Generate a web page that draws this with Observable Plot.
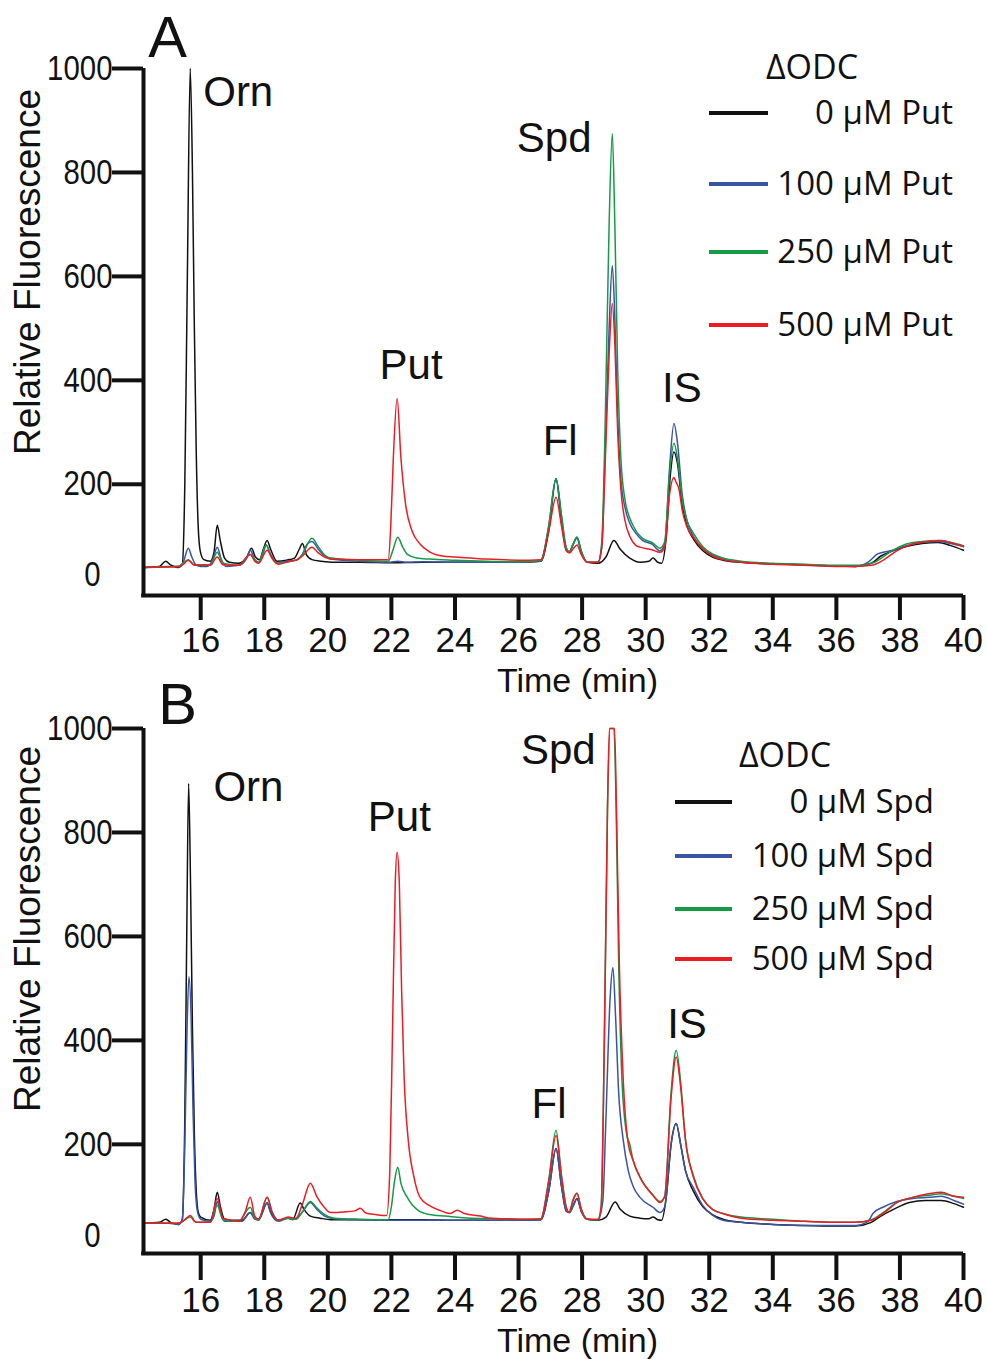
<!DOCTYPE html>
<html><head><meta charset="utf-8">
<script src="https://cdn.jsdelivr.net/npm/d3@7"></script>
<script src="https://cdn.jsdelivr.net/npm/@observablehq/plot@0.6"></script>
<style>
html,body{margin:0;padding:0;background:#fff;}
#root{position:relative;width:987px;height:1359px;overflow:hidden;background:#fff;}
#root svg{position:absolute;left:0;overflow:visible;}
.lg{position:absolute;font-family:"Open Sans",sans-serif;color:#111;white-space:nowrap;}
.sw{position:absolute;height:4px;}
</style></head><body><div id="root"></div><script>
// ---------- data ----------
const seriesNames = ["0 µM", "100 µM", "250 µM", "500 µM"];
const seriesColors = ["#111111", "#3a54a4", "#159a48", "#ec1c24"];
const xTicks = [16, 18, 20, 22, 24, 26, 28, 30, 32, 34, 36, 38, 40];
const yTicks = [200, 400, 600, 800, 1000];

// Panel A (ΔODC + putrescine) — [time (min), relative fluorescence]
const A_0 = [[14.2,40],[14.7,42],[14.9,52],[15.05,45],[15.3,40],[15.42,45],[15.5,200],[15.58,600],[15.67,1000],[15.74,800],[15.8,500],[15.86,260],[15.92,120],[15.99,70],[16.1,55],[16.3,52],[16.42,70],[16.52,121],[16.62,90],[16.75,58],[16.9,50],[17.2,48],[17.45,60],[17.6,77],[17.72,60],[17.85,55],[17.97,75],[18.09,92],[18.2,75],[18.4,52],[18.7,54],[18.95,58],[19.1,75],[19.2,86],[19.32,65],[19.5,55],[19.8,52],[20.2,50],[21,50],[22,49],[23,50],[24,50],[25,50],[26,50],[26.7,52],[26.95,110],[27.18,210],[27.35,130],[27.5,75],[27.6,70],[27.72,85],[27.84,98],[27.97,70],[28.16,50],[28.5,48],[28.75,60],[29.0,92],[29.2,75],[29.5,58],[29.82,50],[30.1,52],[30.23,58],[30.38,50],[30.5,48],[30.65,100],[30.78,220],[30.89,262],[31.0,240],[31.15,160],[31.3,120],[31.5,95],[31.8,72],[32.1,60],[32.43,54],[33,50],[34,47],[35,45],[36,43],[36.6,42],[37.1,48],[37.4,62],[37.7,70],[38.2,80],[38.7,86],[39.2,88],[39.6,82],[40,73]];
const A_100 = [[14.2,40],[15.0,42],[15.3,42],[15.45,50],[15.61,77],[15.72,60],[15.85,45],[16.0,42],[16.2,42],[16.38,55],[16.52,79],[16.65,55],[16.8,42],[17.2,44],[17.45,58],[17.56,73],[17.7,55],[17.82,50],[17.97,68],[18.06,83],[18.2,65],[18.4,48],[18.7,52],[19.0,54],[19.2,65],[19.35,85],[19.5,90],[19.7,75],[19.9,62],[20.1,56],[20.5,54],[21.0,52],[21.9,50],[22.2,52],[22.5,50],[23,51],[24,50],[25,50],[26,50],[26.7,52],[26.95,120],[27.18,211],[27.35,140],[27.5,78],[27.6,70],[27.72,85],[27.84,97],[27.97,72],[28.16,50],[28.5,50],[28.62,80],[28.72,250],[28.85,500],[28.95,621],[29.03,520],[29.12,330],[29.22,210],[29.35,155],[29.5,125],[29.7,105],[29.9,92],[30.2,85],[30.45,72],[30.6,85],[30.75,230],[30.89,317],[31.0,280],[31.15,180],[31.3,130],[31.5,100],[31.8,76],[32.1,64],[32.43,56],[33,50],[34,47],[35,45],[36,43],[36.6,42],[37.0,50],[37.3,66],[37.7,72],[38.2,82],[38.7,88],[39.2,90],[39.6,86],[40,80]];
const A_250 = [[14.2,40],[15.3,42],[15.61,55],[15.8,45],[16.3,45],[16.52,69],[16.7,48],[17.2,44],[17.56,65],[17.7,55],[17.82,50],[18.06,83],[18.2,62],[18.4,48],[19.0,54],[19.2,65],[19.5,96],[19.7,80],[19.9,64],[20.1,58],[21,54],[21.9,52],[22.03,70],[22.2,98],[22.35,80],[22.5,65],[22.8,58],[23.2,56],[24,54],[25,52],[26,51],[26.7,53],[26.95,120],[27.18,211],[27.35,140],[27.5,78],[27.6,70],[27.72,85],[27.84,98],[27.97,72],[28.16,50],[28.5,50],[28.62,90],[28.72,300],[28.85,700],[28.95,875],[29.03,700],[29.12,420],[29.22,250],[29.35,170],[29.5,135],[29.7,110],[29.9,96],[30.2,88],[30.45,77],[30.6,90],[30.75,220],[30.89,279],[31.0,250],[31.15,170],[31.3,130],[31.5,106],[31.8,80],[32.1,66],[32.43,58],[33,52],[34,48],[35,46],[36,44],[36.7,44],[37.2,50],[37.7,70],[38.2,85],[38.7,90],[39.2,92],[39.6,88],[40,82]];
const A_500 = [[14.2,40],[15.3,42],[15.45,46],[15.61,54],[15.8,44],[16.3,44],[16.52,60],[16.7,45],[17.2,44],[17.56,65],[17.7,52],[17.82,48],[18.09,73],[18.25,58],[18.44,46],[18.8,52],[19.0,54],[19.2,62],[19.5,79],[19.7,68],[19.9,60],[20.1,56],[21,55],[21.9,55],[21.98,120],[22.06,250],[22.18,365],[22.3,250],[22.45,160],[22.65,110],[22.9,85],[23.2,70],[23.6,62],[24,60],[24.5,58],[25,56],[26,54],[26.7,55],[26.95,110],[27.18,175],[27.35,120],[27.5,72],[27.6,68],[27.72,76],[27.84,83],[27.97,65],[28.16,50],[28.5,50],[28.62,80],[28.72,230],[28.85,450],[28.95,548],[29.03,470],[29.12,300],[29.22,190],[29.35,130],[29.5,100],[29.7,82],[29.82,79],[30.2,74],[30.45,69],[30.6,80],[30.75,180],[30.89,213],[30.95,205],[31.05,190],[31.15,150],[31.3,118],[31.5,98],[31.8,76],[32.1,62],[32.43,55],[33,50],[34,46],[35,44],[36,42],[36.6,42],[37.1,44],[37.5,55],[37.9,72],[38.4,85],[38.9,90],[39.3,92],[39.7,86],[40,80]];

// Panel B (ΔODC + spermidine)
const B_0 = [[14.2,48],[14.7,50],[14.9,56],[15.05,50],[15.3,46],[15.42,55],[15.5,250],[15.56,600],[15.62,894],[15.68,700],[15.74,420],[15.8,220],[15.86,110],[15.92,70],[16.0,60],[16.3,54],[16.42,75],[16.52,108],[16.62,80],[16.75,56],[17.0,54],[17.3,54],[17.56,69],[17.7,58],[17.82,56],[18.09,87],[18.2,70],[18.44,54],[18.75,58],[18.9,56],[19.13,87],[19.25,75],[19.45,62],[19.76,58],[20.1,55],[21,55],[22,55],[23,55],[24,54],[25,54],[26,54],[26.7,55],[26.95,110],[27.18,192],[27.35,120],[27.5,72],[27.6,69],[27.72,82],[27.84,96],[27.97,72],[28.16,56],[28.5,54],[28.75,60],[29.04,89],[29.2,75],[29.5,62],[29.82,58],[30.1,57],[30.23,60],[30.38,55],[30.5,54],[30.65,100],[30.8,200],[30.96,240],[31.1,200],[31.25,150],[31.5,110],[31.8,80],[32.1,65],[32.43,56],[33,50],[34,46],[35,44],[36,43],[36.6,43],[37.1,50],[37.4,62],[37.8,75],[38.3,88],[38.8,92],[39.3,92],[39.7,86],[40,79]];
const B_100 = [[14.2,48],[15.0,48],[15.3,46],[15.42,55],[15.5,200],[15.57,420],[15.63,523],[15.7,440],[15.76,260],[15.82,130],[15.9,70],[16.0,56],[16.3,52],[16.42,62],[16.52,90],[16.62,70],[16.75,52],[17.3,52],[17.56,69],[17.7,56],[17.82,54],[18.09,87],[18.2,68],[18.44,52],[18.75,58],[18.9,55],[19.2,70],[19.45,88],[19.65,75],[19.9,62],[20.2,57],[21,55],[22,54],[23,54],[24,54],[25,54],[26,54],[26.7,55],[26.95,110],[27.18,192],[27.35,120],[27.5,72],[27.6,69],[27.72,82],[27.84,96],[27.97,72],[28.16,56],[28.5,55],[28.65,90],[28.75,250],[28.88,480],[28.97,540],[29.05,450],[29.15,300],[29.29,210],[29.45,150],[29.6,120],[29.82,98],[30.23,79],[30.45,69],[30.6,80],[30.8,200],[30.96,240],[31.1,200],[31.25,150],[31.5,117],[31.8,82],[32.1,64],[32.43,54],[33,50],[34,46],[35,44],[36,44],[36.6,44],[37.0,52],[37.15,67],[37.5,80],[37.9,90],[38.4,96],[38.9,98],[39.3,100],[39.7,92],[40,85]];
const B_250 = [[14.2,48],[15.3,48],[15.67,60],[15.85,50],[16.3,50],[16.52,83],[16.7,55],[17.2,52],[17.56,79],[17.7,58],[17.82,55],[18.09,98],[18.25,70],[18.44,54],[18.75,58],[19.0,56],[19.2,70],[19.45,90],[19.65,78],[19.9,65],[20.2,58],[21,56],[21.9,55],[22.0,80],[22.1,130],[22.2,156],[22.3,125],[22.5,98],[22.84,73],[23.2,65],[23.7,62],[24.5,58],[25.5,57],[26.5,56],[26.7,57],[26.95,130],[27.18,227],[27.35,140],[27.5,80],[27.59,69],[27.72,92],[27.84,106],[27.97,76],[28.16,56],[28.5,55],[28.6,80],[28.7,400],[28.8,850],[28.88,1000],[29.0,1000],[29.07,850],[29.15,550],[29.25,330],[29.4,220],[29.5,200],[29.6,170],[29.82,137],[30.23,102],[30.45,90],[30.6,100],[30.8,300],[30.96,381],[31.1,320],[31.25,210],[31.5,140],[31.8,95],[32.1,75],[32.43,67],[33,60],[34,56],[35,52],[36,50],[36.6,50],[37.1,55],[37.5,70],[37.9,88],[38.4,98],[38.9,102],[39.3,105],[39.7,100],[40,96]];
const B_500 = [[14.2,48],[15.3,48],[15.5,55],[15.67,63],[15.85,50],[16.3,50],[16.52,96],[16.7,58],[17.2,52],[17.4,70],[17.56,98],[17.7,62],[17.82,56],[18.09,98],[18.25,68],[18.44,54],[18.75,60],[19.0,58],[19.2,85],[19.45,125],[19.65,100],[19.9,78],[20.08,69],[20.5,70],[20.85,72],[21.02,77],[21.2,68],[21.5,65],[21.85,63],[21.95,150],[22.03,400],[22.12,700],[22.18,762],[22.25,700],[22.32,500],[22.4,330],[22.53,208],[22.7,140],[22.9,98],[23.2,82],[23.53,73],[23.85,67],[24.07,73],[24.3,67],[24.8,62],[25.1,58],[26,56],[26.7,57],[26.95,130],[27.18,217],[27.35,140],[27.5,78],[27.59,69],[27.72,95],[27.84,106],[27.97,76],[28.16,56],[28.5,56],[28.6,80],[28.7,400],[28.8,850],[28.86,1000],[29.02,1000],[29.08,850],[29.17,550],[29.29,330],[29.45,202],[29.6,170],[29.82,137],[30.23,102],[30.45,88],[30.6,100],[30.8,290],[30.96,368],[31.1,310],[31.25,210],[31.5,137],[31.8,95],[32.1,75],[32.43,67],[33,58],[34,54],[35,52],[36,50],[36.6,50],[37.1,54],[37.5,68],[37.9,88],[38.4,98],[38.9,105],[39.3,108],[39.7,100],[40,98]];

// peak annotations [label, time, value]
const peaksA = [["Orn",17.18,954],["Spd",27.12,865],["Put",22.62,429],["Fl",27.31,283],["IS",31.14,385]];
const peaksB = [["Orn",17.5,887],["Put",22.25,829],["Spd",27.25,958],["Fl",26.96,277],["IS",31.3,431]];

const legendA = ["0 μM Put", "100 μM Put", "250 μM Put", "500 μM Put"];
const legendB = ["0 μM Spd", "100 μM Spd", "250 μM Spd", "500 μM Spd"];

// ---------- build ----------
const xDomain = [14.2, 40];
function rows(list) {
  const out = [];
  list.forEach((s, i) => s.forEach(([t, v]) => out.push({name: seriesNames[i], t, v})));
  return out;
}
const FONT = "'Liberation Sans', Arial, Helvetica, sans-serif";
const fmt = d => String(d);

function panel(cfg) {
  const yDomain = cfg.yDomain;
  const svg = Plot.plot({
    width: 987, height: cfg.height,
    marginTop: cfg.mt, marginBottom: cfg.mb, marginLeft: 143, marginRight: 24,
    style: {background: "transparent", overflow: "visible", fontFamily: FONT, color: "#111"},
    x: {domain: xDomain},
    y: {domain: yDomain},
    color: {domain: seriesNames, range: seriesColors},
    marks: [
      Plot.lineY(rows(cfg.series), {x: "t", y: "v", stroke: "name", strokeWidth: 1.5, curve: "monotone-x"}),
      Plot.ruleX([xDomain[0]], {y1: yDomain[0], y2: yDomain[1], stroke: "#111", strokeWidth: 4}),
      Plot.ruleY([yDomain[0]], {x1: xDomain[0] - 0.06, x2: xDomain[1], stroke: "#111", strokeWidth: 4}),
      Plot.axisY(yTicks, {tickSize: 31, tickPadding: 0, stroke: "#111", strokeWidth: 4, fontSize: 35, tickFormat: fmt, label: null}),
      Plot.axisY([0], {tickSize: 0, tickPadding: 43, dy: -13, fontSize: 35, tickFormat: fmt, label: null}),
      Plot.axisX(xTicks, {tickSize: cfg.xt, tickPadding: cfg.xp, stroke: "#111", strokeWidth: 4, fontSize: 35, tickFormat: fmt, label: null}),
      Plot.text(["Relative Fluorescence"], {text: d => d, frameAnchor: "left", textAnchor: "middle", lineAnchor: "middle", rotate: -90, dx: -115, dy: cfg.ylDy, fontSize: 37, fill: "#111"}),
      Plot.text(["Time (min)"], {text: d => d, frameAnchor: "bottom", textAnchor: "middle", lineAnchor: "middle", dx: 24, dy: cfg.tDy, fontSize: 34, fill: "#111"}),
      Plot.text([cfg.letter], {text: d => d, frameAnchor: "top-left", textAnchor: "middle", lineAnchor: "middle", dx: cfg.ldx, dy: cfg.ldy, fontSize: 58, fill: "#111"}),
      Plot.text(cfg.peaks, {x: d => d[1], y: d => d[2], text: d => d[0], textAnchor: "middle", lineAnchor: "middle", fontSize: 42, fill: "#111"})
    ]
  });
  // condensed y tick labels
  svg.querySelectorAll('g[aria-label="y-axis tick label"] text').forEach(t => {
    let tr = t.getAttribute("transform");
    if (!tr) {
      const x = t.getAttribute("x") || 0, y = t.getAttribute("y") || 0;
      t.removeAttribute("x"); t.removeAttribute("y");
      tr = `translate(${x},${y})`;
    }
    t.setAttribute("transform", tr + " scale(0.84,1)");
  });
  svg.style.top = cfg.top + "px";
  return svg;
}

const root = document.getElementById("root");
root.appendChild(panel({series: [A_0, A_100, A_250, A_500], peaks: peaksA, letter: "A", top: 0, height: 700, mt: 68, mb: 105, yDomain: [-14, 1000], xt: 25, xp: 7, tDy: 86, ylDy: -60, ldx: 24, ldy: -30}));
root.appendChild(panel({series: [B_0, B_100, B_250, B_500], peaks: peaksB, letter: "B", top: 690, height: 669, mt: 38, mb: 106, yDomain: [-10, 1000], xt: 27, xp: 7, tDy: 88, ylDy: -62, ldx: 34, ldy: -23}));

// legends (HTML overlay)
function legend(labels, L) {
  const fs = 33;
  const title = document.createElement("div");
  title.className = "lg";
  title.textContent = "ΔODC";
  title.style.cssText = `left:${L.titleX}px;top:${L.titleY - 0.531 * 34}px;font-size:34px;line-height:34px;transform:translateX(-50%);`;
  root.appendChild(title);
  labels.forEach((lab, i) => {
    const sw = document.createElement("div");
    sw.className = "sw";
    sw.style.cssText = `left:${L.x1}px;width:${L.x2 - L.x1}px;top:${L.ys[i] - 2}px;background:${seriesColors[i]};`;
    root.appendChild(sw);
    const tx = document.createElement("div");
    tx.className = "lg";
    tx.textContent = lab;
    tx.style.cssText = `right:${987 - L.right}px;top:${L.ys[i] - 0.531 * fs}px;font-size:${fs}px;line-height:${fs}px;`;
    root.appendChild(tx);
  });
}
legend(legendA, {titleX: 812, titleY: 67, x1: 709, x2: 768, right: 953, ys: [113, 184, 252, 325]});
legend(legendB, {titleX: 785, titleY: 755, x1: 675, x2: 732, right: 934, ys: [802, 856, 909, 959]});
</script></body></html>
